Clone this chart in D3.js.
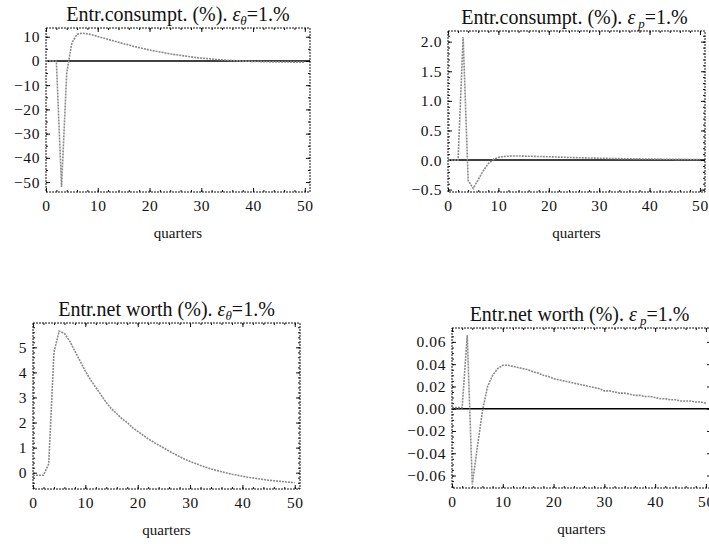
<!DOCTYPE html>
<html>
<head>
<meta charset="utf-8">
<script src="https://cdn.jsdelivr.net/npm/d3@7"></script>
<style>
  body { margin: 0; background: #fff; }
  svg { display: block; }
  text { font-family: "Liberation Serif", "DejaVu Serif", serif; fill: #111; }
  .frame { fill: none; stroke: #111; stroke-width: 1; stroke-dasharray: 2,1; }
  .tick line { stroke: #111; stroke-width: 1; }
  .series { fill: none; stroke: #8a8a8a; stroke-width: 1.6; stroke-dasharray: 2,1; }
  .zero { stroke: #000; stroke-width: 1.6; }
</style>
</head>
<body>
<div id="chart"></div>
<script>
// Quarters after the shock.
var quarters = d3.range(0, 51);

// Entrepreneurial consumption (%) after a 1% theta shock.
var consTheta = [0, 0, 0, -52, -5, 7.5, 11, 11.5, 11.2, 10.7,
    10.1, 9.5, 8.9, 8.3, 7.7, 7.1, 6.6, 6.0, 5.5, 5.0,
    4.5, 4.1, 3.7, 3.3, 2.9, 2.6, 2.3, 2.0, 1.7, 1.4,
    1.2, 1.0, 0.8, 0.6, 0.45, 0.3, 0.15, 0.05, -0.05, -0.1,
    -0.2, -0.25, -0.3, -0.35, -0.4, -0.4, -0.45, -0.45, -0.5, -0.5, -0.5];

// Entrepreneurial consumption (%) after a 1% p shock.
var consP = [0, 0, 0, 2.08, -0.35, -0.48, -0.33, -0.18, -0.06, 0.01,
    0.045, 0.06, 0.065, 0.068, 0.068, 0.066, 0.064, 0.062, 0.06, 0.058,
    0.056, 0.053, 0.05, 0.047, 0.044, 0.041, 0.039, 0.037, 0.035, 0.033,
    0.031, 0.029, 0.027, 0.025, 0.024, 0.022, 0.021, 0.02, 0.019, 0.018,
    0.017, 0.016, 0.015, 0.014, 0.013, 0.012, 0.012, 0.011, 0.01, 0.01, 0.009];

// Entrepreneurial net worth (%) after a 1% theta shock.
var worthTheta = [-0.1, -0.1, -0.1, 0.35, 4.8, 5.65, 5.55, 5.25, 4.85, 4.45,
    4.05, 3.7, 3.4, 3.1, 2.8, 2.55, 2.35, 2.15, 2.0, 1.8,
    1.65, 1.5, 1.35, 1.22, 1.1, 0.98, 0.86, 0.75, 0.64, 0.54,
    0.45, 0.37, 0.29, 0.22, 0.15, 0.09, 0.04, -0.01, -0.06, -0.1,
    -0.14, -0.18, -0.21, -0.24, -0.27, -0.3, -0.32, -0.34, -0.36, -0.38, -0.4];

// Entrepreneurial net worth (%) after a 1% p shock.
var worthP = [0.001, 0.001, 0.001, 0.066, -0.068, -0.034, -0.002, 0.02, 0.03, 0.036,
    0.039, 0.039, 0.038, 0.037, 0.036, 0.035, 0.033, 0.032, 0.03, 0.029,
    0.027, 0.026, 0.025, 0.024, 0.023, 0.022, 0.021, 0.02, 0.019, 0.018,
    0.016, 0.016, 0.015, 0.014, 0.014, 0.013, 0.012, 0.012, 0.011, 0.011,
    0.01, 0.009, 0.009, 0.008, 0.008, 0.007, 0.007, 0.007, 0.006, 0.006, 0.005];

var xTicks = [0, 10, 20, 30, 40, 50];
var consThetaTicks = [-50, -40, -30, -20, -10, 0, 10];
var consPTicks = [-0.5, 0, 0.5, 1.0, 1.5, 2.0];
var worthThetaTicks = [0, 1, 2, 3, 4, 5];
var worthPTicks = [-0.06, -0.04, -0.02, 0, 0.02, 0.04, 0.06];

var titles = ["Entr.consumpt. (%). ", "Entr.consumpt. (%). ", "Entr.net worth (%). ", "Entr.net worth (%). "];
var shocks = ["\u03b8", "p", "\u03b8", "p"];

var W = 709, H = 544;
var svg = d3.select("#chart").append("svg").attr("width", W).attr("height", H);

// Panel frames (pixel boxes) and value ranges.
var panels = [
    {box: [46, 28, 310, 192], y: [-54.1, 13.6], data: consTheta, ticks: consThetaTicks, fmt: d3.format(".0f"), minor: 5, zero: true},
    {box: [448, 31, 705, 192], y: [-0.54, 2.18], data: consP, ticks: consPTicks, fmt: d3.format(".1f"), minor: 0.1, zero: true},
    {box: [33, 323, 300, 489], y: [-0.65, 5.97], data: worthTheta, ticks: worthThetaTicks, fmt: d3.format(".0f"), minor: 0.2, zero: false},
    {box: [452, 328, 711, 488], y: [-0.0712, 0.0725], data: worthP, ticks: worthPTicks, fmt: d3.format(".2f"), minor: 0.005, zero: true}
];

// Mathematica style minus sign, with a thin gap.
function label(fmt) {
    return function(d) { return fmt(d).replace("-", "\u2212\u2009"); };
}

function styleLabels(sel) {
    sel.selectAll("text")
      .style("font-size", "15.5px")
      .style("letter-spacing", "0.6px")
      .style("font-family", "Liberation Serif")
      .attr("fill", "#111");
}

function drawPanel(p, i) {
    var x0 = p.box[0], y0 = p.box[1], x1 = p.box[2], y1 = p.box[3];
    var x = d3.scaleLinear().domain([0, 51]).range([x0, x1]);
    var y = d3.scaleLinear().domain(p.y).range([y1, y0]);
    var g = svg.append("g");

    // Minor ticks on all four sides.
    var xMinor = d3.range(0, 51, 2), yMinor = d3.range(Math.ceil(p.y[0] / p.minor) * p.minor, p.y[1], p.minor);
    g.append("g").attr("transform", "translate(0," + y1 + ")")
      .call(d3.axisBottom(x).tickValues(xMinor).tickSize(-2).tickFormat(""));
    g.append("g").attr("transform", "translate(0," + y0 + ")")
      .call(d3.axisTop(x).tickValues(xMinor).tickSize(-2).tickFormat(""));
    g.append("g").attr("transform", "translate(" + x0 + ",0)")
      .call(d3.axisLeft(y).tickValues(yMinor).tickSize(-2).tickFormat(""));
    g.append("g").attr("transform", "translate(" + x1 + ",0)")
      .call(d3.axisRight(y).tickValues(yMinor).tickSize(-2).tickFormat(""));

    // Major ticks and labels.
    var bx = g.append("g").attr("transform", "translate(0," + y1 + ")")
      .call(d3.axisBottom(x).tickValues(xTicks).tickSize(-4).tickPadding(8).tickFormat(d3.format("d")));
    g.append("g").attr("transform", "translate(0," + y0 + ")")
      .call(d3.axisTop(x).tickValues(xTicks).tickSize(-4).tickFormat(""));
    var ly = g.append("g").attr("transform", "translate(" + x0 + ",0)")
      .call(d3.axisLeft(y).tickValues(p.ticks).tickSize(-4).tickPadding(6).tickFormat(label(p.fmt)));
    g.append("g").attr("transform", "translate(" + x1 + ",0)")
      .call(d3.axisRight(y).tickValues(p.ticks).tickSize(-4).tickFormat(""));

    g.selectAll(".domain").remove();
    styleLabels(bx);
    styleLabels(ly);

    // Dotted frame.
    g.append("rect").attr("class", "frame")
      .attr("x", x0).attr("y", y0).attr("width", x1 - x0).attr("height", y1 - y0);

    if(p.zero) {
        g.append("line").attr("class", "zero")
          .attr("x1", x0).attr("x2", x1).attr("y1", y(0)).attr("y2", y(0));
    }

    var line = d3.line().x(function(d, j) { return x(quarters[j]); }).y(function(d) { return y(d); });
    g.append("path").attr("class", "series").attr("d", line(p.data));

    // Title with epsilon and subscript.
    var t = g.append("text").attr("x", (x0 + x1) / 2 - (i % 2 == 1 ? 2 : 0)).attr("y", y0 - 7)
      .attr("text-anchor", "middle").style("font-size", "20px");
    t.append("tspan").text(titles[i]);
    t.append("tspan").style("font-style", "italic").text("\u03b5");
    t.append("tspan").style("font-style", "italic").style("font-size", "13px")
      .attr("dx", shocks[i] == "p" ? 3 : 0).attr("dy", 4).text(shocks[i]);
    t.append("tspan").attr("dy", -4).text("=1.%");

    // Axis label.
    g.append("text").attr("x", (x0 + x1) / 2).attr("y", y1 + 46)
      .attr("text-anchor", "middle").style("font-size", "15px").text("quarters");
}

panels.forEach(drawPanel);
</script>
</body>
</html>
